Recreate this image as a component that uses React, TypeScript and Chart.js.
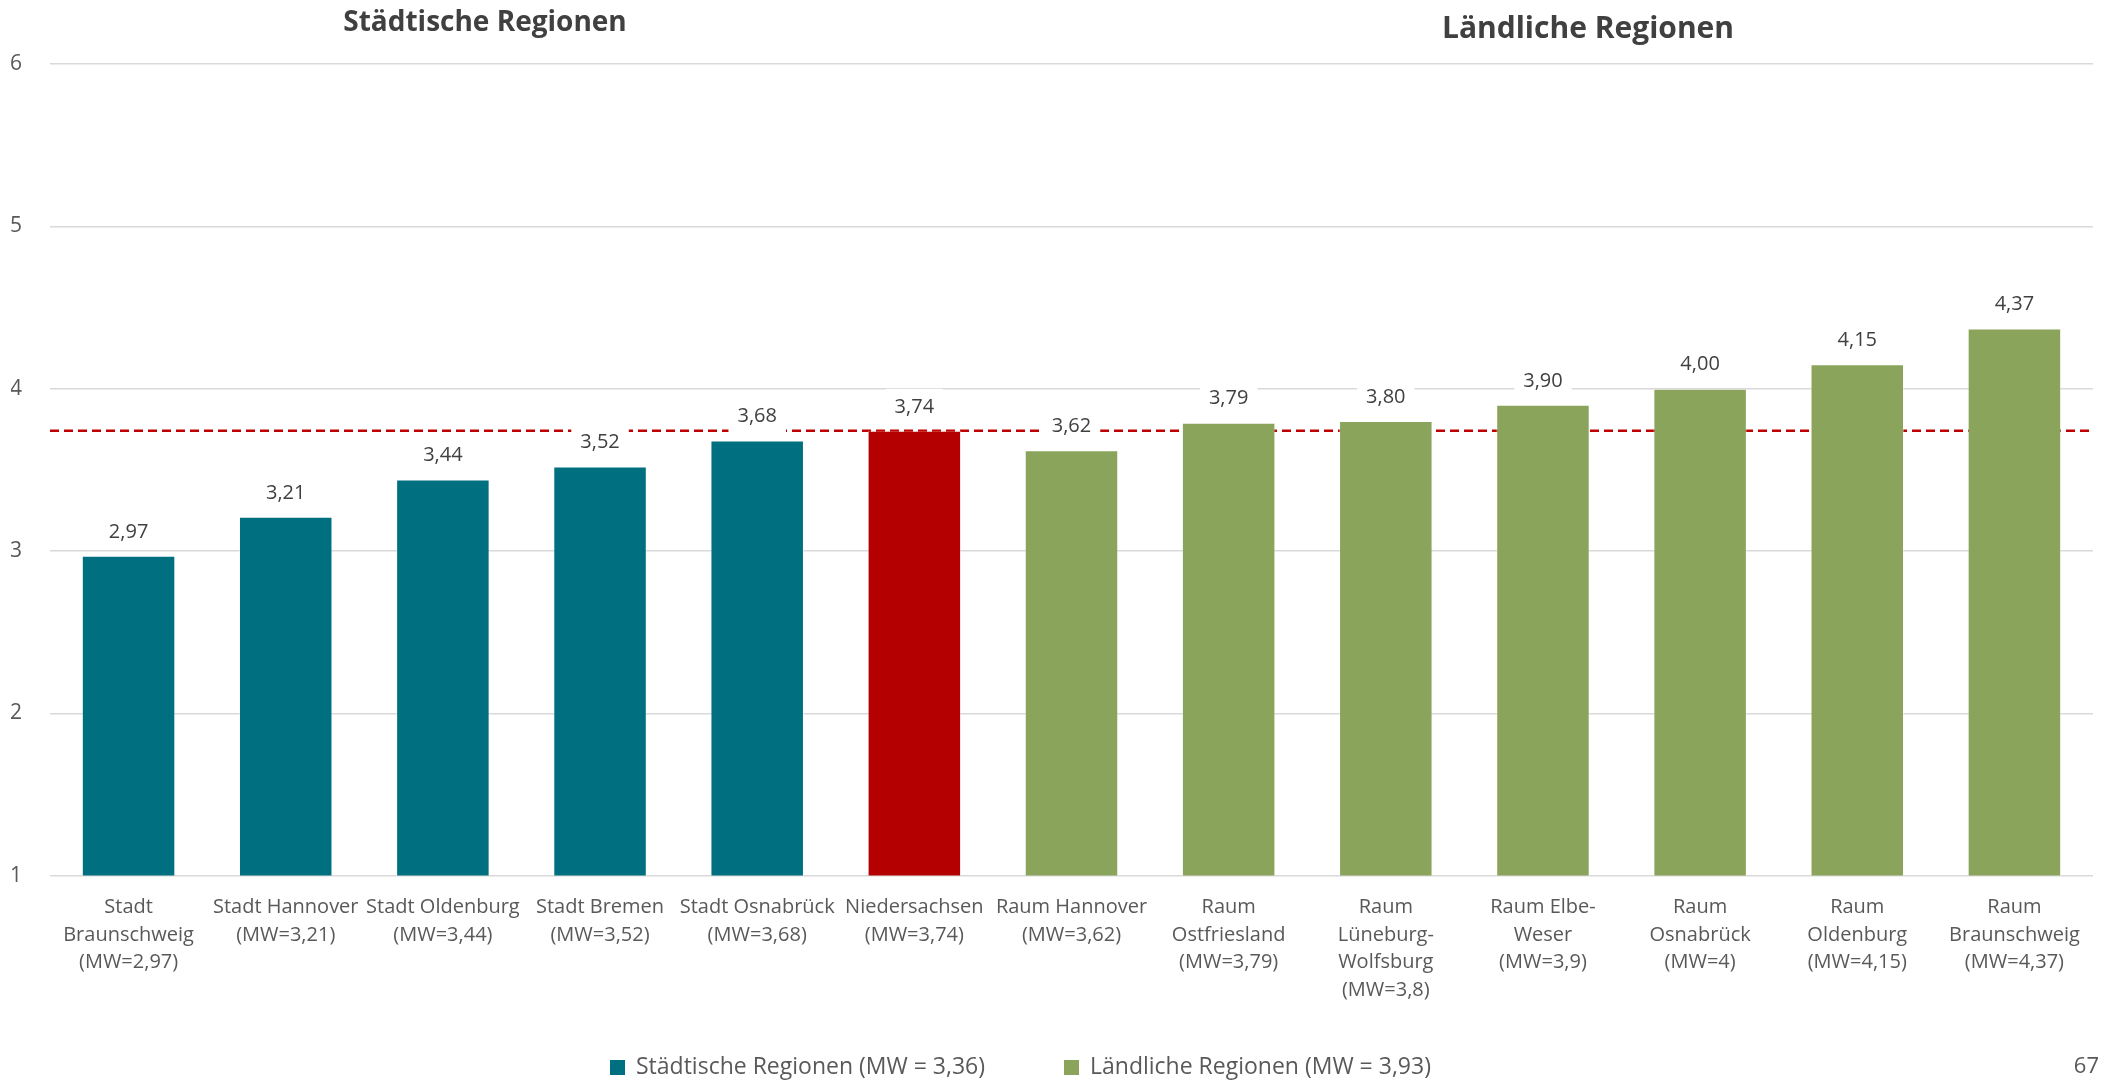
import React, { useEffect, useRef } from "react";
import { Chart, registerables } from "chart.js";

Chart.register(...registerables);

const categories: string[][] = [
  ["Stadt", "Braunschweig", "(MW=2,97)"],
  ["Stadt Hannover", "(MW=3,21)"],
  ["Stadt Oldenburg", "(MW=3,44)"],
  ["Stadt Bremen", "(MW=3,52)"],
  ["Stadt Osnabrück", "(MW=3,68)"],
  ["Niedersachsen", "(MW=3,74)"],
  ["Raum Hannover", "(MW=3,62)"],
  ["Raum", "Ostfriesland", "(MW=3,79)"],
  ["Raum", "Lüneburg-", "Wolfsburg", "(MW=3,8)"],
  ["Raum Elbe-", "Weser", "(MW=3,9)"],
  ["Raum", "Osnabrück", "(MW=4)"],
  ["Raum", "Oldenburg", "(MW=4,15)"],
  ["Raum", "Braunschweig", "(MW=4,37)"],
];

const values: number[] = [2.97, 3.21, 3.44, 3.52, 3.68, 3.74, 3.62, 3.79, 3.8, 3.9, 4.0, 4.15, 4.37];

const groups: string[] = [
  "urban", "urban", "urban", "urban", "urban",
  "state",
  "rural", "rural", "rural", "rural", "rural", "rural", "rural",
];

const yTicks: number[] = [1, 2, 3, 4, 5, 6];
const referenceValue = 3.74;

const sectionTitles: string[] = ["Städtische Regionen", "Ländliche Regionen"];
const legendLabels: string[] = ["Städtische Regionen (MW = 3,36)", "Ländliche Regionen (MW = 3,93)"];
const legendGroups: string[] = ["urban", "rural"];
const pageNumber = "67";

const palette: Record<string, string> = {
  urban: "#007080",
  state: "#B40000",
  rural: "#8BA45C",
};

const FONT = "'Open Sans', 'Noto Sans', sans-serif";

export default function App() {
  const ref = useRef<HTMLCanvasElement>(null);

  useEffect(() => {
    const canvas = ref.current;
    if (!canvas) return;

    const overlay = {
      id: "overlay",
      beforeDatasetsDraw(chart: any) {
        const { ctx, chartArea, scales } = chart;
        const y = scales.y.getPixelForValue(referenceValue);
        ctx.save();
        ctx.strokeStyle = "#C00000";
        ctx.lineWidth = 2.5;
        ctx.setLineDash([9, 5]);
        ctx.beginPath();
        ctx.moveTo(chartArea.left, y);
        ctx.lineTo(chartArea.right, y);
        ctx.stroke();
        ctx.restore();
      },
      afterDatasetsDraw(chart: any) {
        const { ctx } = chart;
        const meta = chart.getDatasetMeta(0);
        ctx.save();
        ctx.font = `20px ${FONT}`;
        ctx.textAlign = "center";
        ctx.textBaseline = "middle";
        meta.data.forEach((bar: any, i: number) => {
          const txt = values[i].toFixed(2).replace(".", ",");
          const cx = bar.x;
          const cy = bar.y - 24;
          const w = ctx.measureText(txt).width + 18;
          ctx.fillStyle = "#ffffff";
          ctx.fillRect(cx - w / 2, cy - 18, w, 36);
          ctx.fillStyle = "#404040";
          ctx.fillText(txt, cx, cy);
        });
        ctx.restore();
      },
      afterDraw(chart: any) {
        const { ctx } = chart;
        ctx.save();
        // section titles
        ctx.fillStyle = "#404040";
        ctx.textAlign = "center";
        ctx.textBaseline = "middle";
        ctx.font = `bold 28px ${FONT}`;
        ctx.fillText(sectionTitles[0], 485, 23);
        ctx.font = `bold 30px ${FONT}`;
        ctx.fillText(sectionTitles[1], 1588, 29);
        // legend
        ctx.font = `23px ${FONT}`;
        ctx.textAlign = "left";
        const legendX = [610, 1064];
        legendLabels.forEach((lbl, i) => {
          ctx.fillStyle = palette[legendGroups[i]];
          ctx.fillRect(legendX[i], 1060, 15, 15);
          ctx.fillStyle = "#595959";
          ctx.fillText(lbl, legendX[i] + 26, 1067);
        });
        // page number
        ctx.textAlign = "right";
        ctx.font = `22px ${FONT}`;
        ctx.fillStyle = "#595959";
        ctx.fillText(pageNumber, 2099, 1067);
        ctx.restore();
      },
    };

    const chart = new Chart(canvas, {
      type: "bar",
      data: {
        labels: categories,
        datasets: [
          {
            data: values,
            backgroundColor: groups.map((g) => palette[g]),
            borderColor: "rgba(255,255,255,0.35)",
            borderWidth: 1,
            barPercentage: 0.595,
            categoryPercentage: 1.0,
          },
        ],
      },
      options: {
        animation: false,
        responsive: true,
        maintainAspectRatio: false,
        layout: { padding: { top: 64, left: 11, right: 8, bottom: 58 } },
        plugins: {
          legend: { display: false },
          tooltip: { enabled: false },
        },
        scales: {
          x: {
            grid: { display: false, drawTicks: false },
            border: { display: false },
            afterFit: (scale: any) => {
              scale.paddingLeft = 0;
              scale.paddingRight = 0;
            },
            ticks: {
              autoSkip: false,
              maxRotation: 0,
              minRotation: 0,
              padding: 18,
              color: "#595959",
              font: { family: FONT, size: 20, lineHeight: 1.38 },
            },
          },
          y: {
            min: yTicks[0],
            max: yTicks[yTicks.length - 1],
            afterBuildTicks: (scale: any) => {
              scale.ticks = yTicks.map((v) => ({ value: v }));
            },
            afterFit: (scale: any) => {
              scale.width = 39;
            },
            grid: { color: "#D9D9D9", lineWidth: 1.5, drawTicks: false },
            border: { display: false },
            ticks: {
              padding: 28,
              color: "#595959",
              font: { family: FONT, size: 21 },
            },
          },
        },
      },
      plugins: [overlay],
    });

    return () => chart.destroy();
  }, []);

  return (
    <div style={{ position: "fixed", left: 0, top: 0, width: 2101, height: 1080, background: "#ffffff" }}>
      <canvas ref={ref} />
    </div>
  );
}
